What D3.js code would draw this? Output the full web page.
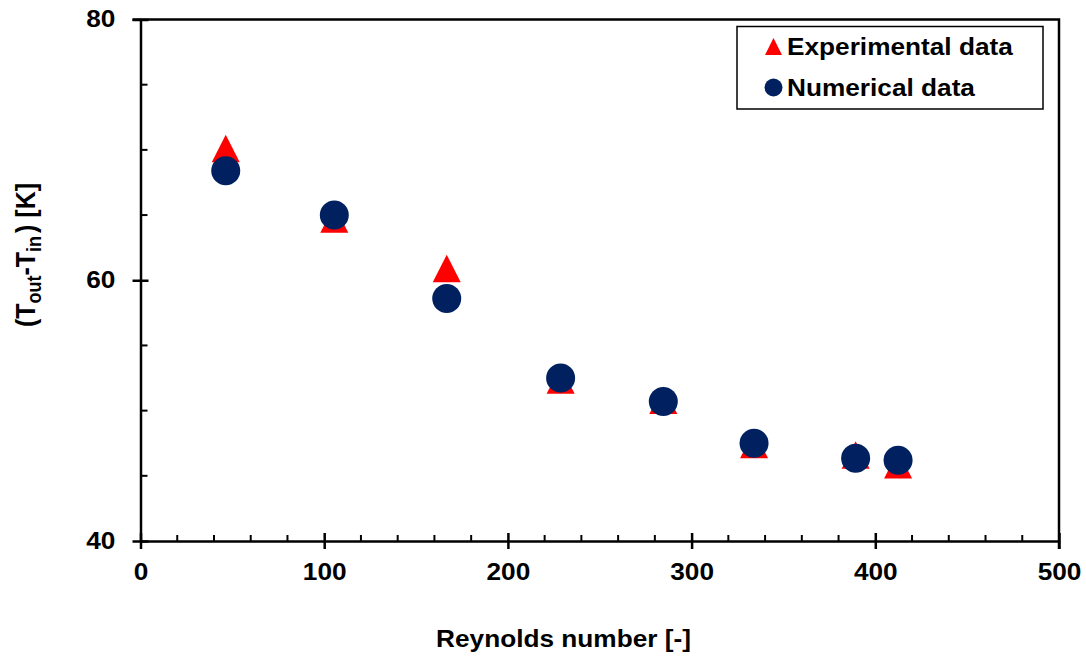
<!DOCTYPE html>
<html>
<head>
<meta charset="utf-8">
<script src="https://cdn.jsdelivr.net/npm/d3@7"></script>
<style>
  body { margin: 0; background: #fff; }
  text { font-family: "Liberation Sans", Arial, sans-serif; font-weight: bold; }
</style>
</head>
<body>
<div id="chart"></div>
<script>
// Reynolds number of each test
let reynolds = [46.4, 105.5, 166.7, 228.7, 284.6, 334.0, 389.3, 412.4];
// temperature rise (T_out - T_in), K
let experimental = [70.1, 64.7, 60.9, 52.35, 50.8, 47.4, 46.6, 45.85];
let numerical = [68.4, 65.0, 58.6, 52.5, 50.7, 47.5, 46.35, 46.2];

let xTicks = [0, 100, 200, 300, 400, 500];
let yTicks = [40, 60, 80];

main();

function main() {

    let width = 1086, height = 659;
    let margin = {left: 140.5, right: 27, top: 19.5, bottom: 118};
    let stretch = 1.14;   // text in the picture is a bit wider than plain Arial

    let svg = d3.select("#chart").append("svg")
        .attr("width", width)
        .attr("height", height);

    let x = d3.scaleLinear().domain([0, 500]).range([margin.left, width - margin.right]);
    let y = d3.scaleLinear().domain([40, 80]).range([height - margin.bottom, margin.top]);

    let x0 = x(0), x1 = x(500), y0 = y(40), y1 = y(80);

    // triangle centred on its bounding box, like the spreadsheet marker
    function tri(w, h) {
        let p = d3.path();
        p.moveTo(0, -h / 2);
        p.lineTo(w / 2, h / 2);
        p.lineTo(-w / 2, h / 2);
        p.closePath();
        return p.toString();
    }

    function label(px, py, txt, size, anchor) {
        return svg.append("text")
            .attr("transform", "translate(" + px + "," + py + ") scale(" + stretch + ",1)")
            .attr("text-anchor", anchor || "start")
            .attr("font-size", size)
            .text(txt);
    }

    //frame: top and right border
    svg.append("path")
        .attr("d", "M" + (x0 - 8) + "," + y1 + "H" + x1 + "V" + (y0 + 8))
        .attr("fill", "none")
        .attr("stroke", "#000")
        .attr("stroke-width", 2.5);

    //minor ticks (inside)
    let g_minor = svg.append("g").attr("stroke", "#000").attr("stroke-width", 2);
    g_minor.selectAll(".xm")
        .data(d3.range(20, 500, 20).filter(d => d % 100 !== 0))
        .enter().append("line")
        .attr("x1", d => x(d)).attr("x2", d => x(d))
        .attr("y1", y0).attr("y2", y0 - 6);
    g_minor.selectAll(".ym")
        .data([45, 50, 55, 65, 70, 75])
        .enter().append("line")
        .attr("x1", x0).attr("x2", x0 + 7)
        .attr("y1", d => y(d)).attr("y2", d => y(d));

    //x axis
    let xAxis = svg.append("g")
        .attr("transform", "translate(0," + y0 + ")")
        .call(d3.axisBottom(x).tickValues(xTicks).tickSize(8).tickSizeOuter(0).tickPadding(15));
    xAxis.select(".domain").attr("stroke-width", 2.5);
    xAxis.selectAll(".tick line").attr("stroke-width", 2.5).attr("y1", -8);
    xAxis.selectAll(".tick text").attr("font-size", 23).attr("fill", "#000")
        .attr("transform", "scale(" + stretch + ",1)")
        .style("font-family", "'Liberation Sans', Arial, sans-serif").style("font-weight", "bold");

    //y axis
    let yAxis = svg.append("g")
        .attr("transform", "translate(" + x0 + ",0)")
        .call(d3.axisLeft(y).tickValues(yTicks).tickSize(8).tickSizeOuter(0).tickPadding(14));
    yAxis.select(".domain").attr("stroke-width", 2.5);
    yAxis.selectAll(".tick line").attr("stroke-width", 2.5).attr("x1", 8);
    yAxis.selectAll(".tick text").attr("font-size", 23).attr("fill", "#000")
        .attr("transform", "scale(" + stretch + ",1)")
        .style("font-family", "'Liberation Sans', Arial, sans-serif").style("font-weight", "bold");

    //axis titles
    label(563.5, 647, "Reynolds number [-]", 23, "middle");

    let ytitle = svg.append("text")
        .attr("transform", "translate(35,255) rotate(-90) scale(1," + stretch + ")")
        .attr("text-anchor", "middle")
        .attr("font-size", 25);
    ytitle.append("tspan").text("(T");
    ytitle.append("tspan").attr("font-size", 18).attr("dy", 5).text("out");
    ytitle.append("tspan").attr("dy", -5).text("-T");
    ytitle.append("tspan").attr("font-size", 18).attr("dy", 5).text("in");
    ytitle.append("tspan").attr("dy", -5).attr("dx", 3).text(") [K]");

    //experimental data
    svg.append("g").selectAll(".exp")
        .data(reynolds)
        .enter().append("path")
        .attr("class", "exp")
        .attr("d", tri(28, 27.5))
        .attr("transform", (d, i) => "translate(" + x(d) + "," + y(experimental[i]) + ")")
        .attr("fill", "#ff0000");

    //numerical data
    svg.append("g").selectAll(".num")
        .data(reynolds)
        .enter().append("circle")
        .attr("class", "num")
        .attr("cx", d => x(d))
        .attr("cy", (d, i) => y(numerical[i]))
        .attr("r", 14.5)
        .attr("fill", "#002060");

    //legend
    let lg = svg.append("g");
    lg.append("rect")
        .attr("x", 737).attr("y", 26.5)
        .attr("width", 306).attr("height", 82.5)
        .attr("fill", "#fff").attr("stroke", "#000").attr("stroke-width", 1.5);
    lg.append("path")
        .attr("d", tri(17, 17))
        .attr("transform", "translate(773.5,46.5)")
        .attr("fill", "#ff0000");
    lg.append("circle")
        .attr("cx", 773.5).attr("cy", 87.5).attr("r", 9)
        .attr("fill", "#002060");
    label(787, 55, "Experimental data", 23);
    label(787, 96, "Numerical data", 23);
}
</script>
</body>
</html>
